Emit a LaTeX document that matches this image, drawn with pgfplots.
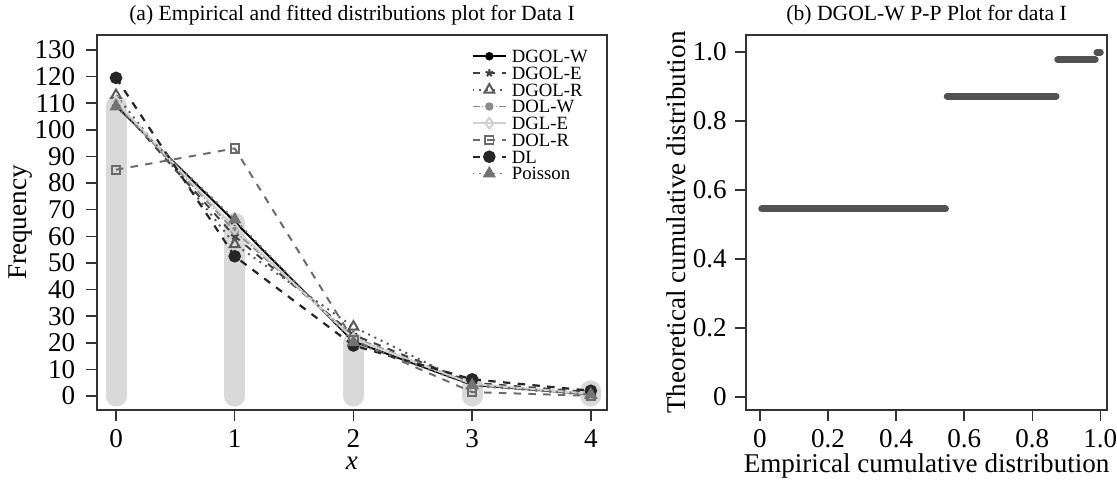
\documentclass[border=0pt]{standalone}
\usepackage{fontspec}
\setmainfont{Liberation Serif}
\usepackage{pgfplots}
\pgfplotsset{compat=1.18}

\definecolor{bargray}{HTML}{D9D9D9}
\definecolor{axisgray}{HTML}{333333}

\pgfplotsset{
  panel/.style={
    scale only axis,
    axis line style={axisgray, line width=0.6pt},
    tick style={axisgray, line width=0.6pt},
    tick align=outside, tick pos=left,
    major tick length=4.3pt,
    /pgf/number format/assume math mode=true,
    tick label style={font=\fontsize{11}{12}\selectfont},
    every axis title shift=0pt,
    title style={font=\fontsize{8.8}{10}\selectfont, at={(axis description cs:0.5,1)}, anchor=base, yshift=6pt},
    xlabel style={font=\fontsize{11}{13}\selectfont, at={(axis description cs:0.5,0)}, anchor=center, yshift=-21.5pt},
    ylabel style={font=\fontsize{11}{13}\selectfont, at={(axis description cs:0,0.5)}, anchor=center},
  }
}

\begin{document}
\begin{tikzpicture}
\useasboundingbox (-39.4pt,-28.4pt) rectangle (414.1pt,166.5pt);

% (a) frequencies, observed counts as grey bars
\begin{axis}[panel, at={(0,0)}, anchor=south west,
  width=207pt, height=152.3pt,
  xmin=-0.16, xmax=4.135, ymin=-5.26, ymax=135.6,
  xtick={0,1,2,3,4}, ytick={0,10,...,130},
  yticklabel style={xshift=-1pt},
  xlabel={\textit{x}}, ylabel={Frequency},
  ylabel style={yshift=31pt},
  title={(a) Empirical and fitted distributions plot for Data I},
  legend style={at={(0.98,0.98)}, anchor=north east, draw=none, fill=none,
    font=\fontsize{7.6}{7.6}\selectfont, column sep=1.5pt,
    nodes={inner sep=0.4pt, text height=5.6pt, text depth=0.4pt}},
  legend cell align=left,
  legend image code/.code={\draw[mark repeat=2, mark phase=2, #1]
    plot coordinates {(0cm,0cm) (0.24cm,0cm) (0.48cm,0cm)};},
]
\addplot[forget plot, ycomb, bargray, line width=8.5pt, line cap=round, mark=none]
  coordinates {(0,109) (1,65) (2,20) (3,4) (4,2)};

\addplot[black, line width=0.8pt, mark=*, mark size=1.3pt]
  coordinates {(0,109) (1,65.5) (2,20.5) (3,4.2) (4,0.7)};
\addlegendentry{DGOL-W}
\addplot[black!75, dashed, line width=0.8pt, mark=star, mark size=1.6pt, mark options={solid}]
  coordinates {(0,110) (1,60) (2,23) (3,5) (4,1.5)};
\addlegendentry{DGOL-E}
\addplot[black!65, dotted, line width=0.8pt, mark=triangle, mark size=2.3pt, mark options={solid, fill=white}]
  coordinates {(0,113) (1,57) (2,26) (3,4) (4,0.4)};
\addlegendentry{DGOL-R}
\addplot[black!45, densely dashdotted, line width=0.8pt, mark=*, mark size=1.3pt, mark options={solid}]
  coordinates {(0,110) (1,62) (2,22) (3,4.5) (4,1)};
\addlegendentry{DOL-W}
\addplot[black!18, line width=0.8pt, mark=diamond, mark size=2.2pt, mark options={solid, fill=white}]
  coordinates {(0,110.5) (1,63) (2,21.5) (3,4.5) (4,0.8)};
\addlegendentry{DGL-E}
\addplot[black!58, dashed, line width=0.8pt, mark=square, mark size=1.7pt, mark options={solid, fill=white}]
  coordinates {(0,85) (1,93) (2,21) (3,1.5) (4,0.1)};
\addlegendentry{DOL-R}
\addplot[black!85, dashed, line width=0.9pt, mark=*, mark size=2.1pt, mark options={solid}]
  coordinates {(0,119.5) (1,52.5) (2,19) (3,6.3) (4,2)};
\addlegendentry{DL}
\addplot[black!55, dotted, line width=0.8pt, mark=triangle*, mark size=2.3pt, mark options={solid}]
  coordinates {(0,108.7) (1,66.3) (2,20.2) (3,4.1) (4,0.6)};
\addlegendentry{Poisson}
\end{axis}

% (b) P-P plot
\begin{axis}[panel, at={(263.5pt,0)}, anchor=south west,
  width=146.6pt, height=152.3pt,
  xmin=-0.041, xmax=1.02, ymin=-0.038, ymax=1.049,
  xtick={0,0.2,0.4,0.6,0.8,1}, ytick={0,0.2,0.4,0.6,0.8,1},
  xticklabels={0,0.2,0.4,0.6,0.8,1.0}, yticklabels={0,0.2,0.4,0.6,0.8,1.0},
  xlabel={Empirical cumulative distribution},
  xlabel style={yshift=-1.2pt},
  ylabel={Theoretical cumulative distribution},
  ylabel style={yshift=28.4pt},
  title={(b) DGOL-W P-P Plot for data I},
]
\addplot[black!68, line width=2.8pt, line cap=round] coordinates {(0.005,0.545) (0.545,0.545)};
\addplot[black!68, line width=2.8pt, line cap=round] coordinates {(0.55,0.872) (0.87,0.872)};
\addplot[black!68, line width=2.8pt, line cap=round] coordinates {(0.875,0.977) (0.985,0.977)};
\addplot[black!68, line width=2.8pt, line cap=round] coordinates {(0.99,0.999) (1.0,0.999)};
\end{axis}
\end{tikzpicture}
\end{document}
